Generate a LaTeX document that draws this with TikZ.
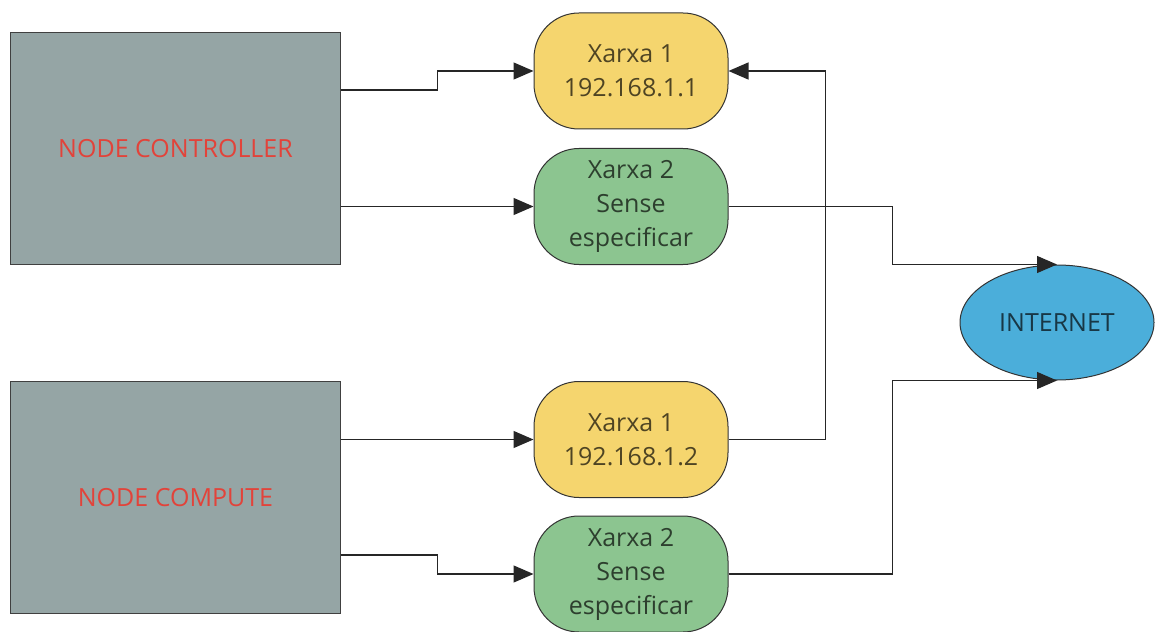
\documentclass[tikz,border=0pt]{standalone}
\usepackage{fontspec}
\setmainfont{Open Sans}
\usetikzlibrary{arrows.meta,shapes.geometric}
\definecolor{boxgray}{HTML}{95A5A5}
\definecolor{netyellow}{HTML}{F5D56E}
\definecolor{netgreen}{HTML}{8CC590}
\definecolor{netblue}{HTML}{4BAEDA}
\definecolor{labelred}{HTML}{E2433A}
\tikzset{
  machine/.style={draw=black!75, line width=1.3pt, fill=boxgray, inner sep=0pt,
    minimum width=330pt, minimum height=232pt, text=labelred,
    font=\fontsize{25}{35}\selectfont},
  netbox/.style={draw=black!80, line width=1pt, rounded corners=45pt, inner sep=0pt,
    minimum width=194pt, minimum height=116pt, align=center, text=black,
    text opacity=0.68, font=\fontsize{25}{34}\selectfont},
  cloud/.style={ellipse, draw=black!80, line width=1pt, fill=netblue, inner sep=0pt,
    minimum width=194pt, minimum height=115pt, text=black, text opacity=0.68,
    font=\fontsize{25}{34}\selectfont},
  conn/.style={draw=black!85, line width=1.3pt, -{Triangle[length=20pt,width=17pt]}}
}
\begin{document}
\begin{tikzpicture}[x=1pt,y=-1pt]
  \useasboundingbox (0,0) rectangle (1155,631);
  % hosts
  \node[machine] (ctrl) at (175.5,148.5) {NODE CONTROLLER};
  \node[machine] (comp) at (175.5,497.5) {NODE COMPUTE};
  % networks
  \node[netbox, fill=netyellow] (x1a) at (631,71) {Xarxa 1\\192.168.1.1};
  \node[netbox, fill=netgreen] (x2a) at (631,206.5) {Xarxa 2\\Sense\\especificar};
  \node[netbox, fill=netyellow] (x1b) at (631,439.5) {Xarxa 1\\192.168.1.2};
  \node[netbox, fill=netgreen] (x2b) at (631,574) {Xarxa 2\\Sense\\especificar};
  % internet
  \node[cloud] (inet) at (1057,322.5) {INTERNET};
  % links
  \draw[conn] ([yshift=58.5pt]ctrl.east) -- ++(96,0) |- (x1a.west);
  \draw[conn] (ctrl.east |- x2a.west) -- (x2a.west);
  \draw[conn] (comp.east |- x1b.west) -- (x1b.west);
  \draw[conn] ([yshift=-57.5pt]comp.east) -- ++(96,0) |- (x2b.west);
  \draw[conn] (x1b.east) -- ++(97,0) |- (x1a.east);
  \draw[conn] (x2a.east) -- ++(164,0) |- (inet.north);
  \draw[conn] (x2b.east) -- ++(164,0) |- (inet.south);
\end{tikzpicture}
\end{document}
